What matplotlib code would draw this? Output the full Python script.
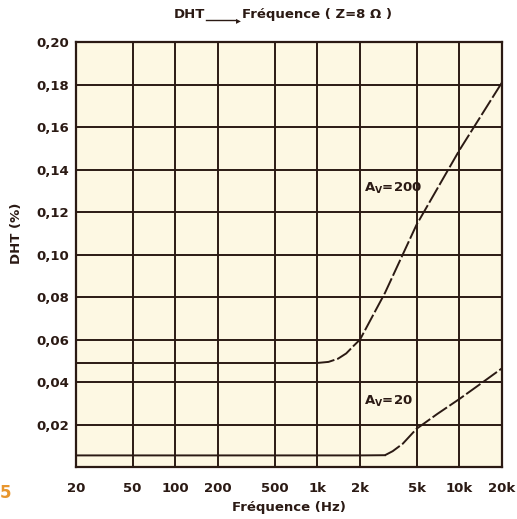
import matplotlib.pyplot as plt
import numpy as np

plt.rcParams['font.family'] = ['DejaVu Sans']
plt.rcParams['font.size'] = 9.5
plt.rcParams['font.weight'] = 'bold'
plt.rcParams['axes.labelweight'] = 'bold'

# données
freq_ticks = [20, 50, 100, 200, 500, 1000, 2000, 5000, 10000, 20000]
freq_labels = ['20', '50', '100', '200', '500', '1k', '2k', '5k', '10k', '20k']
dht_ticks = [0.02, 0.04, 0.06, 0.08, 0.10, 0.12, 0.14, 0.16, 0.18, 0.20]
dht_labels = ['0,02', '0,04', '0,06', '0,08', '0,10', '0,12', '0,14', '0,16', '0,18', '0,20']

# Av = 200
f_200 = [20, 100, 500, 1000, 1200, 1400, 1600, 1800, 2000, 3000, 5000, 10000, 20000]
d_200 = [0.049, 0.049, 0.049, 0.049, 0.0495, 0.051, 0.0535, 0.057, 0.060, 0.082, 0.114, 0.149, 0.181]

# Av = 20
f_20 = [20, 100, 500, 1000, 2000, 3000, 3400, 4000, 5000, 7000, 10000, 14000, 20000]
d_20 = [0.0055, 0.0055, 0.0055, 0.0055, 0.0055, 0.0056, 0.0075, 0.011, 0.018, 0.025, 0.032, 0.039, 0.0465]

ink = '#2b1a14'
paper = '#fdf8e3'

fig = plt.figure(figsize=(5.17, 5.19), dpi=100)
ax = fig.add_axes([0.147, 0.100, 0.824, 0.819])
ax.set_facecolor(paper)

ax.set_xscale('log')
ax.set_xlim(20, 20000)
ax.set_ylim(0, 0.20)

# grille
for f in freq_ticks[1:-1]:
    ax.axvline(f, color=ink, lw=1.4, zorder=1)
for d in dht_ticks[:-1]:
    ax.axhline(d, color=ink, lw=1.4, zorder=1)

# courbes : partie plate en trait plein, montée en tirets
def courbe(f, d, knee):
    f = np.array(f); d = np.array(d)
    flat = f <= knee
    ax.plot(f[flat], d[flat], color=ink, lw=1.4, zorder=2)
    k = np.where(flat)[0][-1]
    ax.plot(f[k:], d[k:], color=ink, lw=1.4, dashes=(9, 1.5), zorder=2)

courbe(f_200, d_200, 1000)
courbe(f_20, d_20, 3000)

ax.text(2150, 0.131, 'A$_\\mathbf{V}$=200', fontsize=9.5, color=ink,
        ha='left', va='center', zorder=3)
ax.text(2150, 0.031, 'A$_\\mathbf{V}$=20', fontsize=9.5, color=ink,
        ha='left', va='center', zorder=3)

ax.set_xticks(freq_ticks)
ax.set_xticklabels(freq_labels)
ax.minorticks_off()
ax.set_yticks(dht_ticks)
ax.set_yticklabels(dht_labels)
ax.tick_params(axis='both', length=0, colors=ink, labelsize=9.5)
ax.tick_params(axis='x', pad=11)
ax.tick_params(axis='y', pad=5)

for s in ax.spines.values():
    s.set_color(ink)
    s.set_linewidth(1.6)

ax.set_xlabel('Fréquence (Hz)', fontsize=9.5, color=ink, labelpad=4)
ax.set_ylabel('DHT (%)', fontsize=9.5, color=ink)
ax.yaxis.set_label_coords(-0.125, 0.55)

# titre avec flèche
ty = 0.965
fig.text(0.397, ty, 'DHT', ha='right', va='baseline', fontsize=9.5, color=ink)
fig.text(0.468, ty, 'Fréquence ( Z=8 Ω )', ha='left', va='baseline', fontsize=9.5, color=ink)
fig.add_artist(plt.Line2D([0.398, 0.455], [ty - 0.003, ty - 0.003], color=ink, lw=1.0,
                          transform=fig.transFigure))
fig.text(0.466, ty - 0.003, '\u25B8', ha='right', va='center', fontsize=7, color=ink)

# numéro de figure
fig.text(0.0, 0.05, '5', ha='left', va='center', fontsize=12,
         fontweight='bold', color='#e8962e')

fig.savefig('out.png', dpi=100, facecolor='white')
